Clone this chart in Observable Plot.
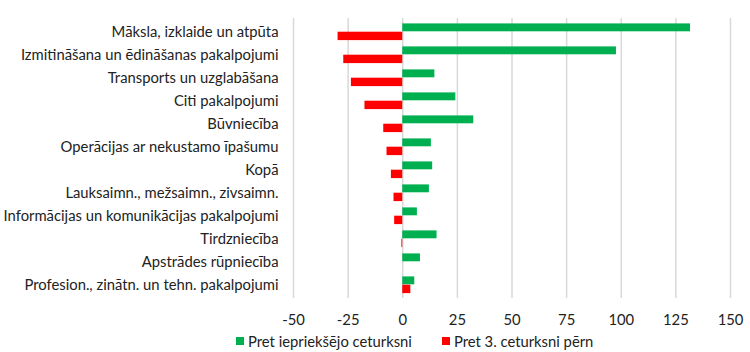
<!DOCTYPE html>
<html>
<head>
<meta charset="utf-8">
<script src="https://cdn.jsdelivr.net/npm/d3@7"></script>
<script src="https://cdn.jsdelivr.net/npm/@observablehq/plot@0.6"></script>
<style>
  html, body { margin: 0; padding: 0; background: #fff; }
  #chart { width: 750px; }
  .legend { display: flex; justify-content: flex-start; align-items: center; height: 22px;
    font-family: Lato, "Open Sans", sans-serif; font-size: 14.8px; color: #222; padding-left: 236px; }
  .legend .item { display: flex; align-items: center; }
  .legend .sw { width: 8px; height: 8px; margin-right: 4px; }
</style>
</head>
<body>
<div id="chart"></div>
<script>
const categories = [
  "Māksla, izklaide un atpūta",
  "Izmitināšana un ēdināšanas pakalpojumi",
  "Transports un uzglabāšana",
  "Citi pakalpojumi",
  "Būvniecība",
  "Operācijas ar nekustamo īpašumu",
  "Kopā",
  "Lauksaimn., mežsaimn., zivsaimn.",
  "Informācijas un komunikācijas pakalpojumi",
  "Tirdzniecība",
  "Apstrādes rūpniecība",
  "Profesion., zinātn. un tehn. pakalpojumi"
];
const seriesNames = ["Pret iepriekšējo ceturksni", "Pret 3. ceturksni pērn"];
const prevQuarter = [131.7, 97.8, 14.7, 24.3, 32.5, 13.1, 13.7, 12.2, 6.7, 15.7, 8.1, 5.5];
const yearAgo = [-29.6, -27.0, -23.5, -17.3, -8.7, -7.2, -5.2, -4.0, -3.7, -0.4, 0, 3.7];
const xTicks = [-50, -25, 0, 25, 50, 75, 100, 125, 150];
const colors = ["#00B050", "#FF0000"];

const dataPrev = categories.map((c, i) => ({category: c, value: prevQuarter[i]}));
const dataYear = categories.map((c, i) => ({category: c, value: yearAgo[i]}));

const plot = Plot.plot({
  width: 750,
  height: 330,
  marginTop: 18,
  marginBottom: 32,
  marginLeft: 293,
  marginRight: 20,
  style: {fontFamily: "Lato, 'Open Sans', sans-serif", fontSize: "14.8px", color: "#222"},
  x: {domain: [-50, 150], ticks: xTicks, label: null, grid: false},
  y: {domain: categories, padding: 0, label: null},
  marks: [
    Plot.ruleX(xTicks, {stroke: "#d9d9d9", strokeWidth: 1.5, strokeOpacity: 1}),
    Plot.barX(dataPrev, {x: "value", y: "category", fill: colors[0], insetTop: 3.4, insetBottom: 11.7}),
    Plot.barX(dataYear, {x: "value", y: "category", fill: colors[1], insetTop: 11.7, insetBottom: 2.9}),
    Plot.axisY({tickSize: 0, tickPadding: 15, fontSize: 14.8}),
    Plot.axisX({ticks: xTicks, tickSize: 0, tickPadding: 16, fontSize: 14.8, tickFormat: d => String(d)})
  ]
});
document.getElementById("chart").appendChild(plot);

const legend = document.createElement("div");
legend.className = "legend";
seriesNames.forEach((name, i) => {
  const item = document.createElement("div");
  item.className = "item";
  if (i > 0) item.style.marginLeft = "30px";
  const sw = document.createElement("span");
  sw.className = "sw";
  sw.style.background = colors[i];
  const t = document.createElement("span");
  t.textContent = name;
  item.appendChild(sw);
  item.appendChild(t);
  legend.appendChild(item);
});
document.body.appendChild(legend);
</script>
</body>
</html>
